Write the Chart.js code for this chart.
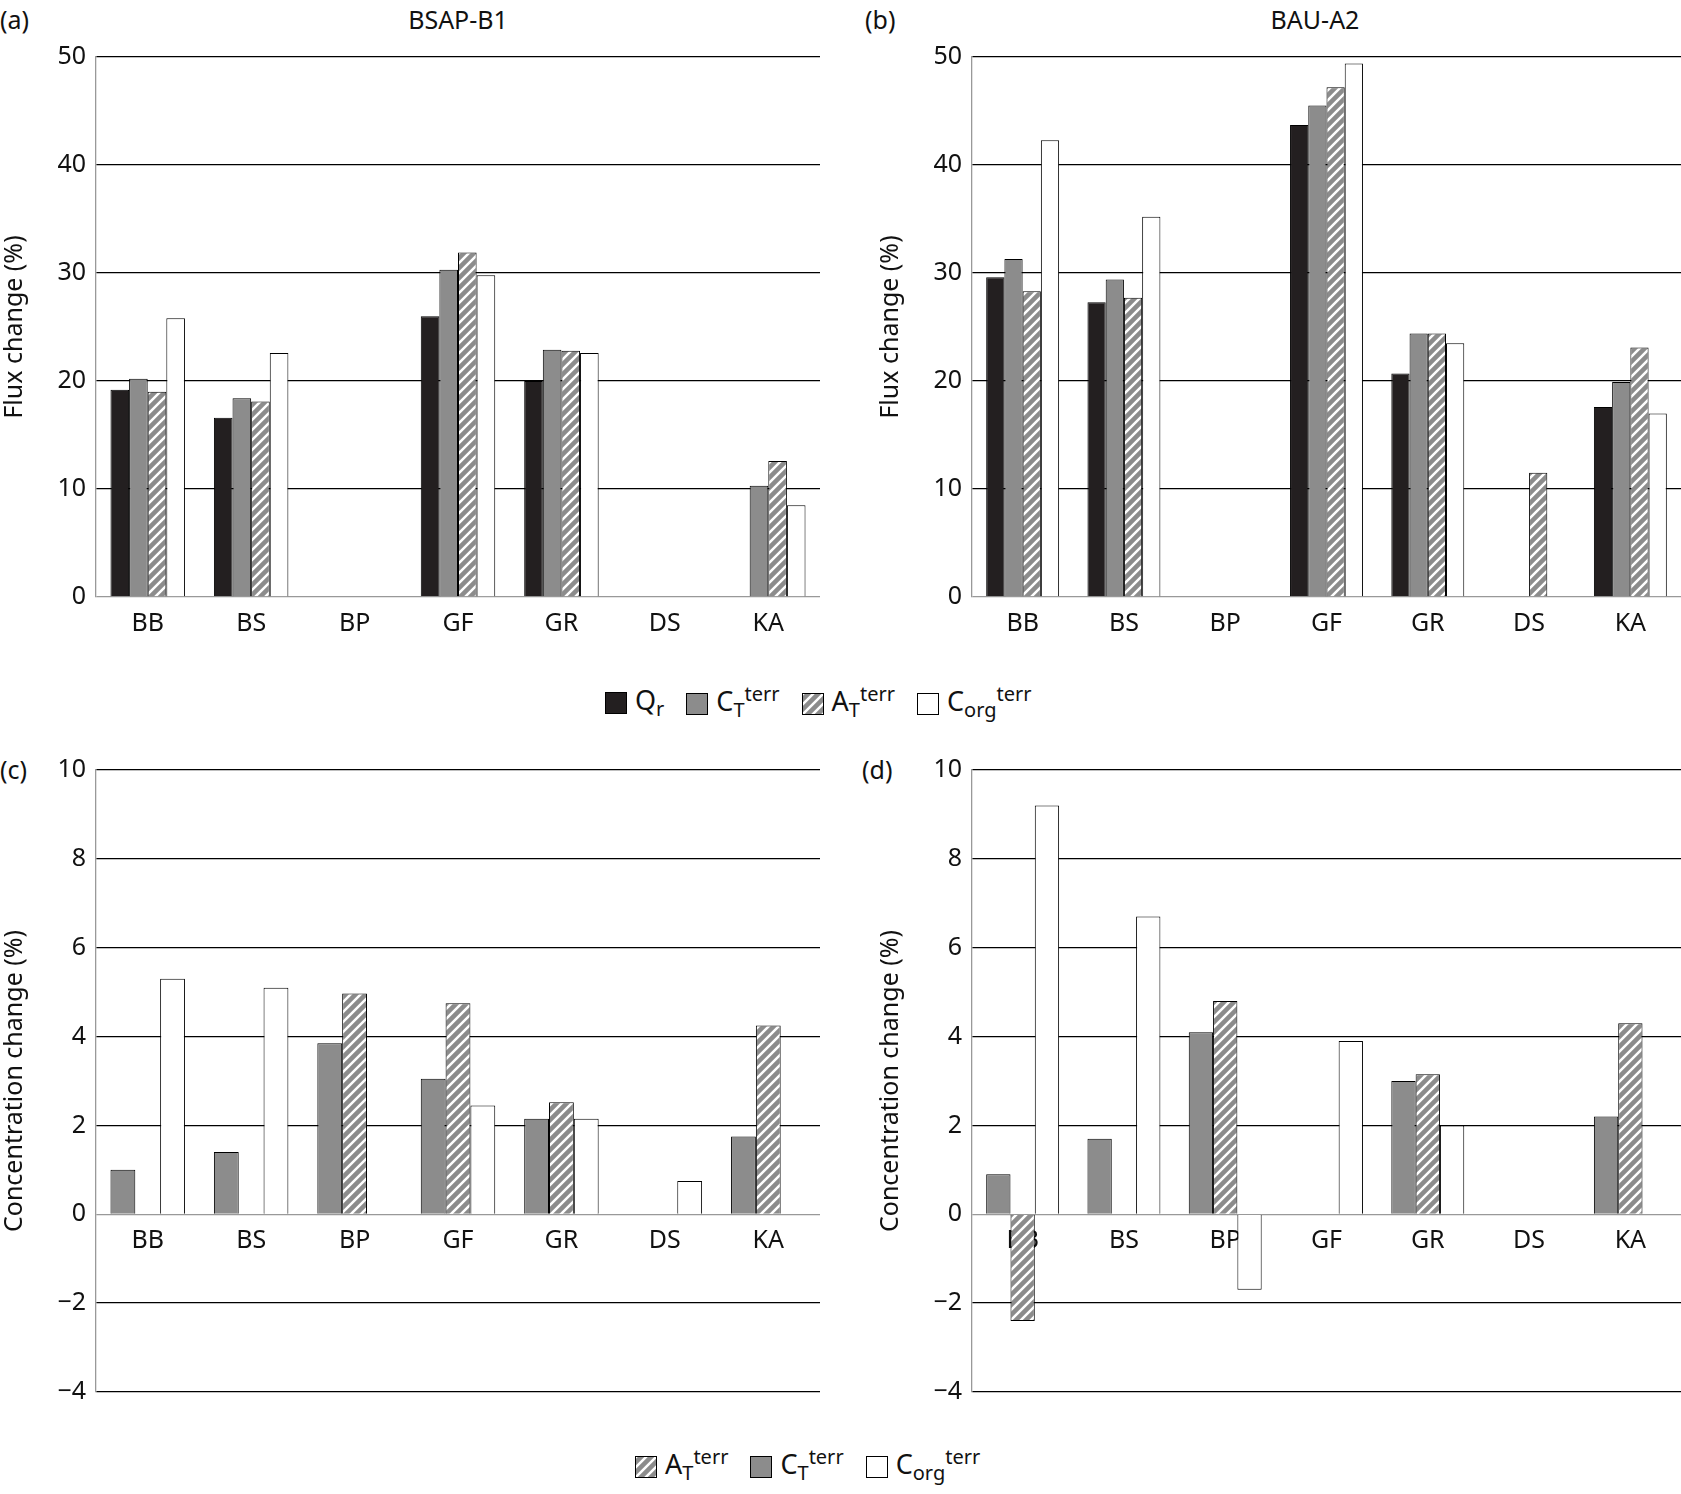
<!DOCTYPE html>
<html lang="en">
<head>
<meta charset="UTF-8">
<title>Flux and concentration change</title>
<style>
  body { margin: 0; width: 1681px; height: 1494px; background: #fff; font-family: 'Noto Sans', sans-serif; color: #111; position: relative; overflow: hidden; }
  .panel { position: absolute; }
  .lbl { position: absolute; font-size: 25px; }
  .legend { position: absolute; display: flex; gap: 22px; font-size: 27px; align-items: center; }
  .legend span.box { display: inline-block; width: 20px; height: 20px; border: 1px solid #000; margin-right: 8px; vertical-align: middle; }
  .legend sub, .legend sup { font-size: 20px; }
</style>
<script src="https://cdn.jsdelivr.net/npm/chart.js"></script>
</head>
<body>
<div class="lbl" style="left:0;top:2px">(a)</div>
<div class="lbl" style="left:178px;top:2px;width:560px;text-align:center">BSAP-B1</div>
<div class="lbl" style="left:865px;top:2px">(b)</div>
<div class="lbl" style="left:1035px;top:2px;width:560px;text-align:center">BAU-A2</div>
<div class="lbl" style="left:0;top:752px">(c)</div>
<div class="lbl" style="left:862px;top:752px">(d)</div>

<div class="panel" style="left:0;top:32px;width:820px;height:625px"><canvas id="ca"></canvas></div>
<div class="panel" style="left:876px;top:32px;width:805px;height:625px"><canvas id="cb"></canvas></div>
<div class="panel" style="left:0;top:745px;width:820px;height:672px"><canvas id="cc"></canvas></div>
<div class="panel" style="left:876px;top:745px;width:805px;height:672px"><canvas id="cd"></canvas></div>

<div class="legend" style="left:605px;top:680px">
  <div><span class="box" style="background:#231f20"></span>Q<sub>r</sub></div>
  <div><span class="box" style="background:#8c8c8c"></span>C<sub>T</sub><sup>terr</sup></div>
  <div><span class="box" id="hb1"></span>A<sub>T</sub><sup>terr</sup></div>
  <div><span class="box" style="background:#fff"></span>C<sub>org</sub><sup>terr</sup></div>
</div>
<div class="legend" style="left:635px;top:1443px">
  <div><span class="box" id="hb2"></span>A<sub>T</sub><sup>terr</sup></div>
  <div><span class="box" style="background:#8c8c8c"></span>C<sub>T</sub><sup>terr</sup></div>
  <div><span class="box" style="background:#fff"></span>C<sub>org</sub><sup>terr</sup></div>
</div>

<script>
const categories = ['BB', 'BS', 'BP', 'GF', 'GR', 'DS', 'KA'];

// Flux change (%), BSAP-B1
const fluxB1_Qr   = [19.2, 16.6, null, 26.0, 20.0, null, null];
const fluxB1_CT   = [20.2, 18.4, null, 30.3, 22.9, null, 10.3];
const fluxB1_AT   = [19.0, 18.1, null, 31.9, 22.8, null, 12.6];
const fluxB1_Corg = [25.8, 22.6, null, 29.8, 22.6, null, 8.5];

// Flux change (%), BAU-A2
const fluxA2_Qr   = [29.6, 27.3, null, 43.7, 20.7, null, 17.6];
const fluxA2_CT   = [31.3, 29.4, null, 45.5, 24.4, null, 19.9];
const fluxA2_AT   = [28.3, 27.7, null, 47.2, 24.4, 11.5, 23.1];
const fluxA2_Corg = [42.3, 35.2, null, 49.4, 23.5, null, 17.0];

// Concentration change (%), BSAP-B1
const concB1_CT   = [1.0, 1.4, 3.85, 3.05, 2.15, null, 1.75];
const concB1_AT   = [null, null, 4.97, 4.75, 2.52, null, 4.25];
const concB1_Corg = [5.3, 5.1, null, 2.45, 2.15, 0.75, null];

// Concentration change (%), BAU-A2
const concA2_CT   = [0.9, 1.7, 4.1, null, 3.0, null, 2.2];
const concA2_AT   = [-2.4, null, 4.8, null, 3.15, null, 4.3];
const concA2_Corg = [9.2, 6.7, -1.7, 3.9, 2.0, null, null];

function hatch() {
  const c = document.createElement('canvas');
  c.width = 10; c.height = 10;
  const g = c.getContext('2d');
  g.fillStyle = '#8c8c8c'; g.fillRect(0, 0, 10, 10);
  g.strokeStyle = '#fff'; g.lineWidth = 2.5;
  g.beginPath();
  g.moveTo(-2, 12); g.lineTo(12, -2);
  g.moveTo(-7, 7); g.lineTo(7, -7);
  g.moveTo(3, 17); g.lineTo(17, 3);
  g.stroke();
  return c;
}
const hc = hatch();
const hatchFill = document.createElement('canvas').getContext('2d').createPattern(hc, 'repeat');
['hb1', 'hb2'].forEach(id => { document.getElementById(id).style.background = 'url(' + hc.toDataURL() + ')'; });

const BLACK = '#231f20', GRAY = '#8c8c8c', WHITE = '#ffffff';
const font = { family: "'Noto Sans', sans-serif", size: 25 };

function ds(data, fill) {
  return { data: data, backgroundColor: fill, borderColor: '#000', borderWidth: 1,
           categoryPercentage: 0.72, barPercentage: 1.0 };
}

function makeChart(id, sets, min, max, step, title, yw, xAtZero) {
  new Chart(document.getElementById(id), {
    type: 'bar',
    data: { labels: categories, datasets: sets },
    options: {
      responsive: true, maintainAspectRatio: false, animation: false,
      layout: { padding: { top: 10, right: 0, bottom: xAtZero ? 5 : 0 } },
      plugins: { legend: { display: false }, tooltip: { enabled: false } },
      scales: {
        x: {
          position: xAtZero ? { y: 0 } : 'bottom',
          grid: { display: false, drawTicks: false },
          border: { display: false },
          ticks: { color: '#111', font: font, padding: 12 },
          afterFit: s => { if (!xAtZero) s.height = 60; }
        },
        y: {
          min: min, max: max,
          ticks: { stepSize: step, color: '#111', font: font, padding: 10,
                   callback: v => v < 0 ? '\u2212' + Math.abs(v) : v },
          grid: { color: c => c.tick.value === 0 ? '#999' : '#000', lineWidth: 1.3, drawTicks: false },
          border: { color: '#999', width: 1.3 },
          title: { display: true, text: title, color: '#111', font: font, padding: 0 },
          afterFit: s => { s.width = yw; }
        }
      }
    }
  });
}

makeChart('ca', [ds(fluxB1_Qr, BLACK), ds(fluxB1_CT, GRAY), ds(fluxB1_AT, hatchFill), ds(fluxB1_Corg, WHITE)],
          0, 50, 10, 'Flux change (%)', 96, false);
makeChart('cb', [ds(fluxA2_Qr, BLACK), ds(fluxA2_CT, GRAY), ds(fluxA2_AT, hatchFill), ds(fluxA2_Corg, WHITE)],
          0, 50, 10, 'Flux change (%)', 96, false);
makeChart('cc', [ds(concB1_CT, GRAY), ds(concB1_AT, hatchFill), ds(concB1_Corg, WHITE)],
          -4, 10, 2, 'Concentration change (%)', 96, true);
makeChart('cd', [ds(concA2_CT, GRAY), ds(concA2_AT, hatchFill), ds(concA2_Corg, WHITE)],
          -4, 10, 2, 'Concentration change (%)', 96, true);
</script>
</body>
</html>
